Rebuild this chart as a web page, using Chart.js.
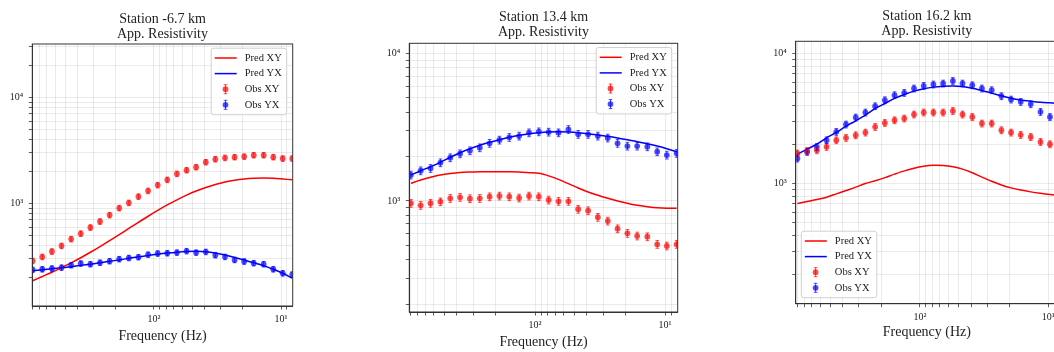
<!DOCTYPE html>
<html>
<head>
<meta charset="utf-8">
<script src="https://cdn.jsdelivr.net/npm/chart.js@4"></script>
<style>
  html, body { margin: 0; padding: 0; background: #fff; overflow: hidden; width: 1054px; height: 352px; }
  canvas { position: absolute; top: 0; }
</style>
</head>
<body>
<canvas id="c1" width="305" height="352" style="left:0px"></canvas>
<canvas id="c2" width="335" height="352" style="left:355px"></canvas>
<canvas id="c3" width="340" height="352" style="left:740px"></canvas>
<script>
// frequencies (Hz), high to low
const freq = [901.6, 757.5, 636.3, 534.5, 449.0, 377.2, 316.8, 266.2, 223.6, 187.8,
              157.8, 132.6, 111.3, 93.5, 78.6, 66.0, 55.4, 46.6, 39.1, 32.9,
              27.6, 23.2, 19.5, 16.4, 13.7, 11.5, 9.70, 8.15];

// Station -6.7 km
const predXY1 = [187, 205, 225, 249, 276, 308, 347, 393, 447, 509, 582, 665, 759, 861,
                 970, 1084, 1199, 1312, 1419, 1514, 1596, 1660, 1706, 1734, 1746, 1734, 1706, 1675];
const predYX1 = [232, 237, 242, 248, 254, 261, 268, 276, 285, 294, 304, 314, 324, 333,
                 341, 348, 353, 355, 351, 341, 327, 310, 293, 276, 259, 240, 220, 198];
const obsXY1 = [288, 314, 353, 399, 462, 521, 594, 677, 778, 906, 1016, 1164, 1318, 1493,
                1675, 1906, 2066, 2205, 2456, 2622, 2697, 2741, 2776, 2862, 2862, 2741, 2660, 2660];
const obsYX1 = [237, 240, 244, 249, 262, 272, 268, 277, 286, 299, 307, 312, 330, 338,
                340, 345, 356, 345, 350, 326, 314, 294, 284, 274, 268, 240, 220, 214];

// Station 13.4 km
const predXY2 = [1318, 1388, 1447, 1500, 1535, 1560, 1571, 1579, 1579, 1579, 1579, 1571, 1556, 1540,
                 1480, 1400, 1310, 1225, 1151, 1093, 1043, 1000, 965, 935, 915, 900, 893, 893];
const predYX2 = [1500, 1603, 1706, 1828, 1977, 2124, 2259, 2383, 2496, 2600, 2699, 2784, 2856, 2900,
                 2930, 2945, 2930, 2900, 2856, 2800, 2740, 2673, 2600, 2520, 2444, 2355, 2259, 2158];
const obsXY2 = [965, 935, 965, 989, 1042, 1059, 1037, 1042, 1069, 1081, 1069, 1048, 1081, 1069,
                1016, 995, 995, 879, 860, 776, 732, 649, 604, 580, 573, 509, 496, 509];
const obsYX2 = [1500, 1603, 1664, 1817, 1964, 2090, 2191, 2296, 2460, 2588, 2699, 2754, 2900, 2945,
                2930, 2900, 3055, 2830, 2830, 2754, 2673, 2460, 2355, 2355, 2332, 2158, 2047, 2104];

// Station 16.2 km
const predXY3 = [702, 727, 753, 785, 832, 883, 937, 1000, 1050, 1110, 1180, 1250, 1310, 1355,
                 1380, 1375, 1345, 1290, 1210, 1120, 1040, 975, 925, 890, 862, 840, 822, 806];
const predYX3 = [1680, 1837, 2006, 2244, 2466, 2760, 3033, 3353, 3776, 4124, 4508, 4839, 5130, 5349,
                 5508, 5600, 5630, 5570, 5408, 5190, 4953, 4722, 4529, 4394, 4298, 4219, 4168, 4120];
const obsXY3 = [1702, 1782, 1803, 1914, 2153, 2244, 2354, 2466, 2725, 2924, 3066, 3162, 3394, 3517,
                3517, 3517, 3615, 3394, 3251, 2895, 2895, 2570, 2466, 2366, 2280, 2089, 2006, 1950];
const obsYX3 = [1557, 1750, 1914, 2153, 2495, 2844, 3219, 3517, 3933, 4374, 4779, 4979, 5380, 5634,
                5776, 5875, 6153, 5875, 5700, 5380, 5222, 4697, 4426, 4246, 4077, 3556, 3251, 3100];

const obsErr = 0.06; // relative error bar size

const xTicks = [8, 9, 10, 20, 30, 40, 50, 60, 70, 80, 90, 100, 200, 300, 400, 500, 600, 700, 800, 900];
const yTicks = [100, 200, 300, 400, 500, 600, 700, 800, 900, 1000, 2000, 3000, 4000, 5000,
                6000, 7000, 8000, 9000, 10000, 20000, 30000];

const titles = [['Station -6.7 km', 'App. Resistivity'],
                ['Station 13.4 km', 'App. Resistivity'],
                ['Station 16.2 km', 'App. Resistivity']];
const xLimits = [[8.09, 908], [8.0, 927], [8.4, 930]];
const yLimits = [[108, 32000], [177, 11700], [119, 12400]];

const FONT = '"Liberation Serif", "DejaVu Serif", serif';
const SUP = {'0': '⁰', '1': '¹', '2': '²', '3': '³', '4': '⁴', '5': '⁵'};

function powLabel(v) {
  const e = Math.log10(v);
  if (Math.abs(e - Math.round(e)) > 1e-6) return '';
  return '10' + SUP[String(Math.round(e))];
}

const errorBars = {
  id: 'errorBars',
  afterDatasetsDraw(chart) {
    const {ctx, chartArea: a} = chart;
    const ys = chart.scales.y;
    ctx.save();
    ctx.beginPath();
    ctx.rect(a.left, a.top, a.right - a.left, a.bottom - a.top);
    ctx.clip();
    chart.data.datasets.forEach((ds, i) => {
      if (ds.showLine) return;
      const meta = chart.getDatasetMeta(i);
      ctx.strokeStyle = ds.backgroundColor;
      ctx.lineWidth = 1;
      meta.data.forEach((pt, j) => {
        const v = ds.data[j].y;
        const yt = ys.getPixelForValue(v * (1 + obsErr));
        const yb = ys.getPixelForValue(v * (1 - obsErr));
        ctx.beginPath();
        ctx.moveTo(pt.x, yt); ctx.lineTo(pt.x, yb);
        ctx.moveTo(pt.x - 1.8, yt); ctx.lineTo(pt.x + 1.8, yt);
        ctx.moveTo(pt.x - 1.8, yb); ctx.lineTo(pt.x + 1.8, yb);
        ctx.stroke();
      });
    });
    ctx.restore();
  }
};

const frame = {
  id: 'frame',
  afterDatasetsDraw(chart) {
    const {ctx, chartArea: a} = chart;
    ctx.save();
    ctx.strokeStyle = '#333';
    ctx.lineWidth = 1;
    ctx.strokeRect(a.left, a.top, a.right - a.left, a.bottom - a.top);
    ctx.restore();
  }
};

const insideLegend = {
  id: 'insideLegend',
  afterDraw(chart, args, opts) {
    const {ctx, chartArea: a} = chart;
    const w = 75.5, h = 66.5;
    const lowerLeft = opts.corner === 'lower left';
    const x0 = lowerLeft ? a.left + 5.6 : a.right - 6 - w;
    const y0 = lowerLeft ? a.bottom - 6 - h : a.top + 4.2;
    ctx.save();
    ctx.beginPath();
    if (ctx.roundRect) ctx.roundRect(x0, y0, w, h, 2.5); else ctx.rect(x0, y0, w, h);
    ctx.fillStyle = 'rgba(255,255,255,0.8)';
    ctx.fill();
    ctx.strokeStyle = '#d0d0d0';
    ctx.lineWidth = 1;
    ctx.stroke();
    ctx.font = '10.5px ' + FONT;
    ctx.textBaseline = 'middle';
    chart.data.datasets.forEach((ds, i) => {
      const y = y0 + 9.8 + i * 15.6;
      const mx = x0 + 14.3;
      if (ds.showLine) {
        ctx.strokeStyle = ds.borderColor;
        ctx.lineWidth = 1.5;
        ctx.beginPath();
        ctx.moveTo(x0 + 3.5, y); ctx.lineTo(x0 + 25.5, y);
        ctx.stroke();
      } else {
        ctx.strokeStyle = ds.backgroundColor;
        ctx.lineWidth = 1;
        ctx.beginPath();
        ctx.moveTo(mx, y - 4.5); ctx.lineTo(mx, y + 4.5);
        ctx.moveTo(mx - 1.8, y - 4.5); ctx.lineTo(mx + 1.8, y - 4.5);
        ctx.moveTo(mx - 1.8, y + 4.5); ctx.lineTo(mx + 1.8, y + 4.5);
        ctx.stroke();
        ctx.fillStyle = ds.backgroundColor;
        ctx.beginPath();
        ctx.arc(mx, y, 2.9, 0, Math.PI * 2);
        ctx.fill();
      }
      ctx.fillStyle = '#222';
      ctx.fillText(ds.label, x0 + 33.5, y);
    });
    ctx.restore();
  }
};

function datasets(pxy, pyx, oxy, oyx) {
  const pts = arr => freq.map((f, i) => ({x: f, y: arr[i]}));
  const line = (label, arr, color) => ({
    label, data: pts(arr), showLine: true, borderColor: color, backgroundColor: color,
    borderWidth: 1.5, pointRadius: 0, tension: 0.3, order: 2
  });
  const obs = (label, arr, color) => ({
    label, data: pts(arr), showLine: false, backgroundColor: color, borderColor: color,
    borderWidth: 0, pointRadius: 2.9, order: 1
  });
  return [
    line('Pred XY', pxy, '#ff0000'),
    line('Pred YX', pyx, '#0000ff'),
    obs('Obs XY', oxy, 'rgba(255,0,0,0.7)'),
    obs('Obs YX', oyx, 'rgba(0,0,255,0.7)')
  ];
}

function makeChart(id, k, data, lay) {
  const grid = {color: 'rgba(0,0,0,0.1)', lineWidth: 0.8, tickColor: '#333', tickLength: 3.5, drawTicks: true};
  const border = {display: true, color: '#333', width: 1};
  return new Chart(document.getElementById(id), {
    type: 'scatter',
    data: {datasets: data},
    plugins: [errorBars, frame, insideLegend],
    options: {
      responsive: false,
      animation: false,
      devicePixelRatio: 1,
      events: [],
      layout: {autoPadding: false, padding: {left: 0, right: lay.padRight, top: 0, bottom: 0}},
      scales: {
        x: {
          type: 'logarithmic',
          reverse: true,
          min: xLimits[k][0],
          max: xLimits[k][1],
          grid, border,
          afterBuildTicks: ax => {
            ax.ticks = xTicks.filter(v => v > ax.min * 1.004 && v < ax.max * 0.996).map(v => ({value: v}));
          },
          afterFit: ax => { ax.height = lay.xAxisH; ax.paddingLeft = 0; ax.paddingRight = 0; },
          ticks: {
            autoSkip: false, maxRotation: 0, minRotation: 0, padding: 4, color: '#222',
            font: {family: FONT, size: 10},
            callback: v => powLabel(v)
          },
          title: {
            display: true, text: 'Frequency (Hz)', color: '#222',
            font: {family: FONT, size: 14, lineHeight: 1.2},
            padding: {top: 0, bottom: lay.xTitlePad}
          }
        },
        y: {
          type: 'logarithmic',
          min: yLimits[k][0],
          max: yLimits[k][1],
          grid, border,
          afterBuildTicks: ax => {
            ax.ticks = yTicks.filter(v => v > ax.min * 1.004 && v < ax.max * 0.996).map(v => ({value: v}));
          },
          afterFit: ax => { ax.width = lay.yAxisW; ax.paddingTop = 0; ax.paddingBottom = 0; },
          ticks: {
            autoSkip: false, padding: 5.5, color: '#222',
            font: {family: FONT, size: 10},
            callback: v => powLabel(v)
          }
        }
      },
      plugins: {
        legend: {display: false},
        tooltip: {enabled: false},
        title: {
          display: true, text: titles[k], fullSize: false, color: '#222',
          font: {family: FONT, size: 14, weight: 'normal', lineHeight: 1.05},
          padding: {top: lay.titleTop, bottom: lay.titleBottom}
        },
        insideLegend: {corner: lay.corner}
      }
    }
  });
}

makeChart('c1', 0, datasets(predXY1, predYX1, obsXY1, obsYX1),
  {yAxisW: 32.3, padRight: 12.3, titleTop: 11.95, titleBottom: 2.65, xAxisH: 46, xTitlePad: 6.9, corner: 'upper right'});
makeChart('c2', 1, datasets(predXY2, predYX2, obsXY2, obsYX2),
  {yAxisW: 54.3, padRight: 12.3, titleTop: 9.95, titleBottom: 3.95, xAxisH: 40, xTitlePad: 0.9, corner: 'upper right'});
makeChart('c3', 2, datasets(predXY3, predYX3, obsXY3, obsYX3),
  {yAxisW: 55.7, padRight: 22, titleTop: 9.35, titleBottom: 2.55, xAxisH: 48.3, xTitlePad: 10.9, corner: 'lower left'});
</script>
</body>
</html>
